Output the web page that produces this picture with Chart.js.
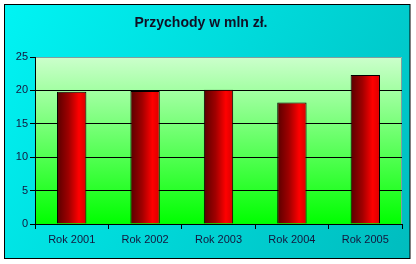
<!DOCTYPE html>
<html><head><meta charset="utf-8">
<script src="https://cdn.jsdelivr.net/npm/chart.js@4.4.1/dist/chart.umd.min.js"></script>
<style>html,body{margin:0;padding:0;background:#fff}#wrap{width:416px;height:264px}</style>
</head><body><div id="wrap"><canvas id="c" width="416" height="264"></canvas></div>
<script>
const categories = ["Rok 2001", "Rok 2002", "Rok 2003", "Rok 2004", "Rok 2005"];
const revenue = [19.8, 19.9, 20.1, 18.2, 22.3];
const yTicks = [0, 5, 10, 15, 20, 25];
const titleText = "Przychody w mln zł.";

const bgPlugin = {
  id: 'bg',
  beforeDraw(chart) {
    const c = chart.ctx, a = chart.chartArea;
    c.save();
    c.fillStyle = '#fff';
    c.fillRect(0, 0, chart.width, chart.height);
    const g = c.createLinearGradient(4, 4, 410, 259);
    g.addColorStop(0, '#00f4f4');
    g.addColorStop(1, '#00bcbe');
    c.fillStyle = g;
    c.fillRect(4.5, 4.5, 405.5, 254);
    c.strokeStyle = '#000';
    c.lineWidth = 1;
    c.strokeRect(4.5, 4.5, 405.5, 254);
    if (a) {
      const pg = c.createLinearGradient(0, a.top, 0, a.bottom);
      pg.addColorStop(0, '#ccffcc');
      pg.addColorStop(1, '#00ff00');
      c.fillStyle = pg;
      c.fillRect(a.left, a.top, a.right - a.left, a.bottom - a.top);
      c.strokeStyle = '#7fa0a0';
      c.beginPath();
      c.moveTo(a.left, a.top + 0.5);
      c.lineTo(a.right - 0.5, a.top + 0.5);
      c.lineTo(a.right - 0.5, a.bottom);
      c.stroke();
    }
    c.restore();
  }
};

function barFill(ctx) {
  const chart = ctx.chart;
  const xs = chart.scales.x;
  if (!chart.chartArea || !xs) return '#c00000';
  const cx = xs.getPixelForValue(ctx.dataIndex);
  const w = (xs.width / categories.length) * 0.4;
  const g = chart.ctx.createLinearGradient(cx - w / 2, 0, cx + w / 2, 0);
  g.addColorStop(0, '#580000');
  g.addColorStop(0.4, '#a00000');
  g.addColorStop(0.75, '#ff0000');
  g.addColorStop(1, '#d80000');
  return g;
}

new Chart(document.getElementById('c'), {
  type: 'bar',
  data: {
    labels: categories,
    datasets: [{
      data: revenue,
      backgroundColor: barFill,
      borderColor: '#000',
      borderWidth: 1,
      borderSkipped: 'start',
      categoryPercentage: 1.0,
      barPercentage: 0.4
    }]
  },
  options: {
    responsive: false,
    animation: false,
    devicePixelRatio: 1,
    layout: { padding: { left: 0, right: 14, top: 0, bottom: 0 } },
    plugins: {
      legend: { display: false },
      tooltip: { enabled: false },
      title: {
        display: true,
        text: titleText,
        color: '#101024',
        font: { family: 'Liberation Sans, Arial, sans-serif', size: 14, weight: 'bold', lineHeight: 1.2 },
        padding: { top: 14.6, bottom: 25.6 }
      }
    },
    scales: {
      x: {
        afterFit(s) { s.height = 40; },
        grid: { offset: true, drawOnChartArea: false, drawTicks: true, tickLength: 5, color: '#000' },
        border: { display: true, color: '#000' },
        ticks: {
          color: '#14143c',
          padding: 4,
          font: { family: 'Liberation Sans, Arial, sans-serif', size: 11 }
        }
      },
      y: {
        min: 0, max: 25,
        afterFit(s) { s.width = 35; },
        afterBuildTicks(s) { s.ticks = yTicks.map(v => ({ value: v })); },
        grid: {
          color: (c) => (c.tick && c.tick.value === 25) ? 'rgba(0,0,0,0)' : '#000',
          tickColor: '#000',
          tickLength: 5
        },
        border: { display: true, color: '#000' },
        ticks: {
          color: '#14143c',
          padding: 2,
          font: { family: 'Liberation Sans, Arial, sans-serif', size: 11 }
        }
      }
    }
  },
  plugins: [bgPlugin]
});
</script></body></html>
